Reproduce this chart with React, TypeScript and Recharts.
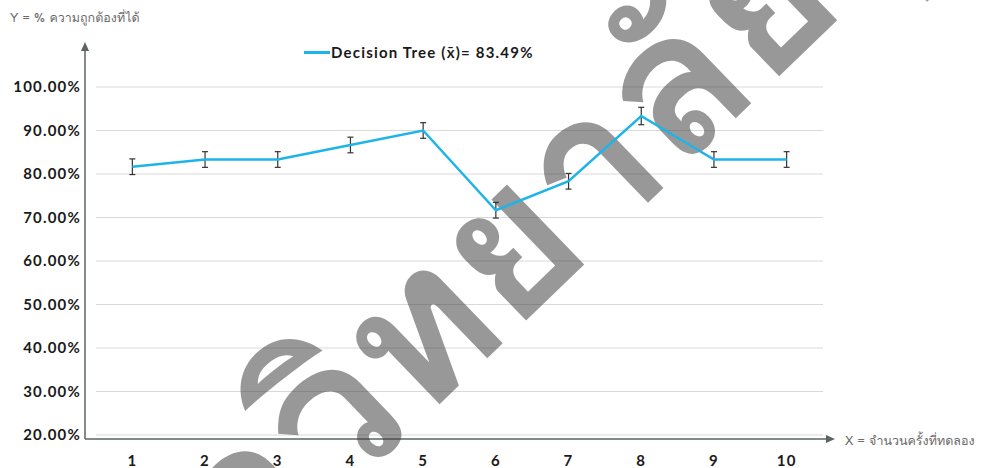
import React from "react";
import { CartesianGrid, ErrorBar, Legend, Line, LineChart, XAxis, YAxis, usePlotArea } from "recharts";

const runs = [1, 2, 3, 4, 5, 6, 7, 8, 9, 10];
const accuracy = [0.8167, 0.8333, 0.8333, 0.8667, 0.9, 0.7167, 0.7833, 0.9333, 0.8333, 0.8333];
const errorRange = [0.018, 0.018, 0.018, 0.018, 0.018, 0.018, 0.018, 0.02, 0.018, 0.018];
const yTicks = [0.2, 0.3, 0.4, 0.5, 0.6, 0.7, 0.8, 0.9, 1.0];
const bandEdges = [0.5, 1.5, 2.5, 3.5, 4.5, 5.5, 6.5, 7.5, 8.5, 9.5, 10.5];
const seriesName = "Decision Tree (x̄)= 83.49%";
const yTitle = "Y = % ความถูกต้องที่ได้";
const xTitle = "X = จำนวนครั้งที่ทดลอง";
const watermark = "มหาวิทยาลัยบูรพา";

const data = runs.map((run, i) => ({ run, acc: accuracy[i], err: errorRange[i] }));

const FONT = "Lato, 'Open Sans', sans-serif";
const THAI = "Tahoma, Loma, Garuda, 'Noto Sans Thai Looped', Waree, Umpush, Kinnari, 'Noto Sans Thai', sans-serif";
const AXIS = "#5b6461";

function Decor() {
  const plot = usePlotArea();
  if (!plot) return null;
  const ax = plot.x - 11;
  const ay = plot.y + plot.height + 4;
  const right = plot.x + plot.width + 12;
  return (
    <g>
      <line x1={ax} y1={ay} x2={ax} y2={plot.y - 40} stroke={AXIS} strokeWidth={1.5} />
      <path d={`M${ax - 4},${plot.y - 36} L${ax},${plot.y - 45} L${ax + 4},${plot.y - 36} Z`} fill={AXIS} />
      <line x1={ax} y1={ay} x2={right - 6} y2={ay} stroke={AXIS} strokeWidth={1.5} />
      <path d={`M${right - 9},${ay - 4} L${right},${ay} L${right - 9},${ay + 4} Z`} fill={AXIS} />
      <text x={10} y={22} fontSize={12.5} fill="#6b6b6b" fontFamily={THAI}>{yTitle}</text>
      <text x={right + 10} y={ay + 6} fontSize={12.5} fill="#6b6b6b" fontFamily={THAI}>{xTitle}</text>
      <text
        x={0}
        y={0}
        transform="translate(66,765) rotate(-44)"
        fontSize={200}
        fontWeight={700}
        fontFamily={THAI}
        fill="#3a3a3a"
        fillOpacity={0.52}
      >
        {watermark}
      </text>
    </g>
  );
}

function LegendBox() {
  return (
    <div style={{ display: "flex", alignItems: "center", fontFamily: FONT, fontWeight: 700, fontSize: 15, letterSpacing: 1.2, color: "#1a1a1a", whiteSpace: "nowrap" }}>
      <span style={{ display: "inline-block", width: 26, height: 3, background: "#1eb4ea", marginRight: 1 }} />
      {seriesName}
    </div>
  );
}

const tickStyle = { fill: "#1a1a1a", fontSize: 15, fontWeight: 700, fontFamily: FONT, letterSpacing: 1.2 };

export default function App() {
  return (
    <div style={{ width: 985, height: 468, background: "#fff", overflow: "hidden" }}>
      <style>{`body{margin:0}`}</style>
      <LineChart width={985} height={468} data={data} margin={{ top: 87, right: 162, bottom: 0, left: 10 }}>
        <CartesianGrid horizontal vertical={false} stroke="#d9d9d9" strokeWidth={1.2} />
        <XAxis
          xAxisId="edge"
          type="number"
          dataKey="run"
          domain={[0.5, 10.5]}
          ticks={bandEdges}
          height={0}
          tick={false}
          tickSize={5}
          axisLine={{ stroke: "#d9d9d9" }}
          tickLine={{ stroke: "#d9d9d9" }}
        />
        <XAxis
          type="number"
          dataKey="run"
          domain={[0.5, 10.5]}
          ticks={runs}
          axisLine={false}
          tickLine={false}
          tickSize={0}
          tickMargin={20}
          height={33}
          tick={tickStyle}
        />
        <YAxis
          domain={[0.2, 1]}
          ticks={yTicks}
          width={86}
          axisLine={false}
          tickLine={false}
          tickSize={0}
          tickMargin={15}
          tickFormatter={(v: number) => `${(v * 100).toFixed(2)}%`}
          tick={tickStyle}
        />
        <Legend
          verticalAlign="middle"
          align="center"
          layout="horizontal"
          wrapperStyle={{ position: "absolute", top: 43, left: 304, width: "auto" }}
          content={() => <LegendBox />}
        />
        <Line
          type="linear"
          dataKey="acc"
          stroke="#1eb4ea"
          strokeWidth={2.5}
          dot={false}
          activeDot={false}
          name={seriesName}
          isAnimationActive={false}
        >
          <ErrorBar dataKey="err" width={3} stroke="#333" strokeWidth={1.2} direction="y" />
        </Line>
        <Decor />
      </LineChart>
    </div>
  );
}
